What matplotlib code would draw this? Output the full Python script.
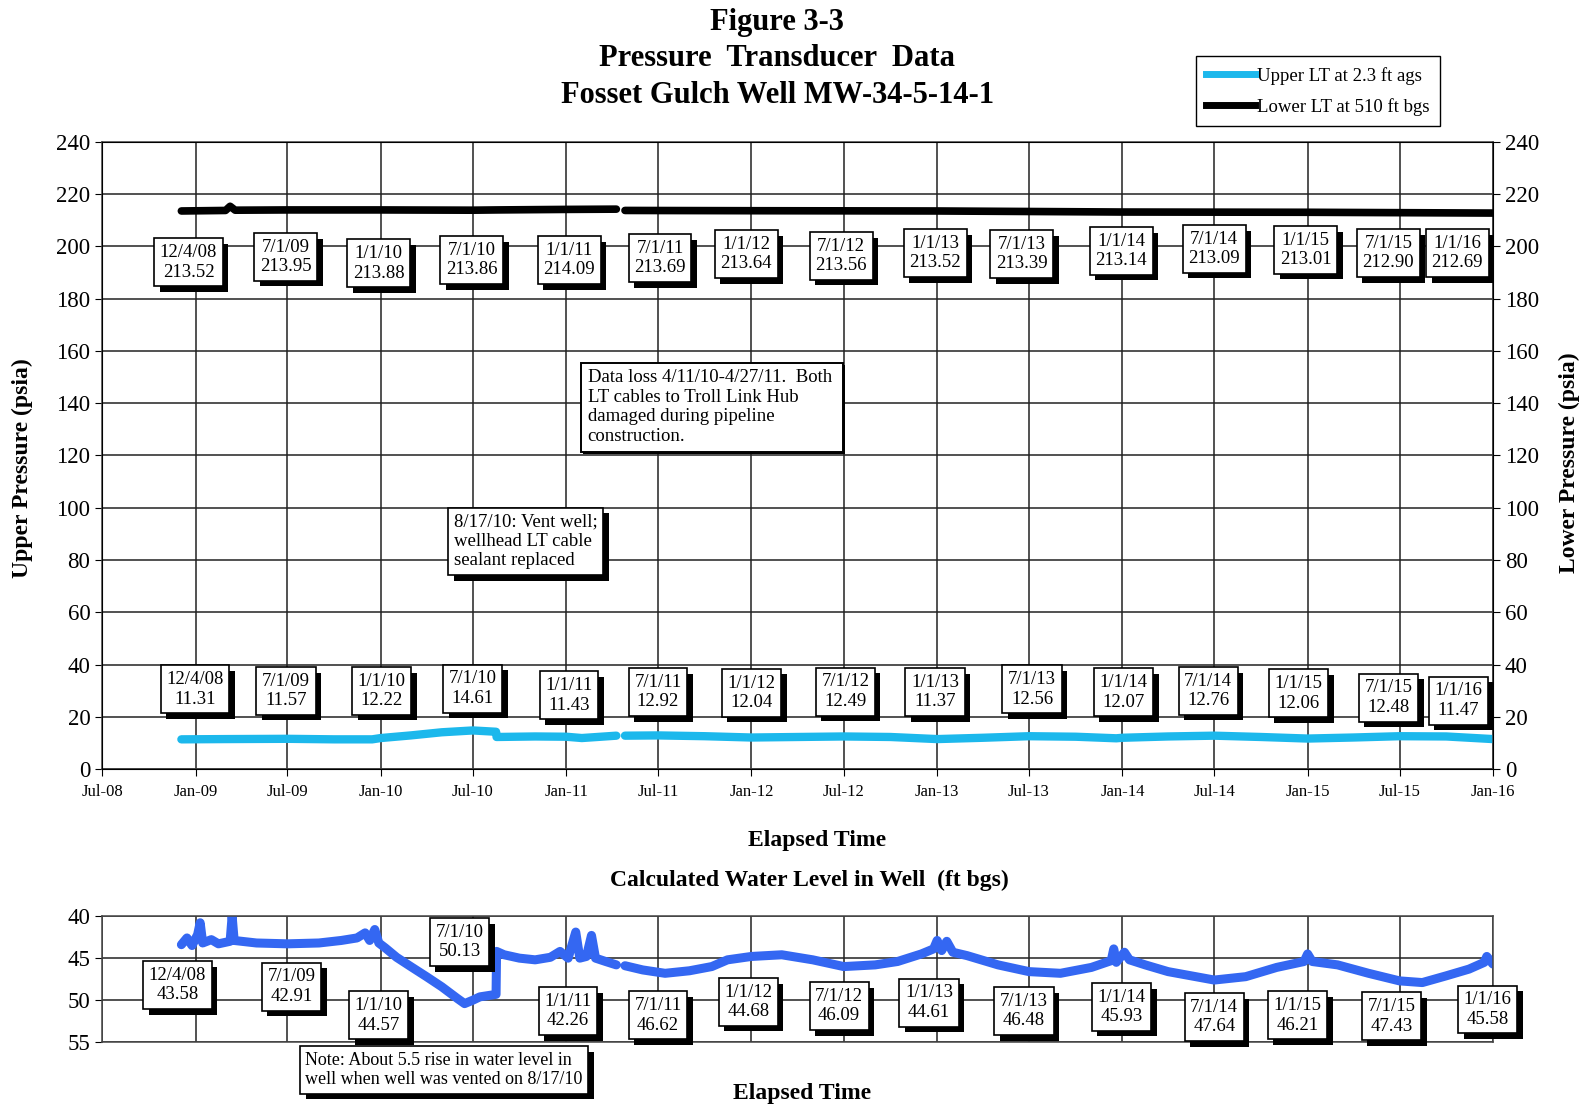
import numpy as np
import pandas as pd
import matplotlib
matplotlib.use("Agg")
import matplotlib.pyplot as plt
import matplotlib.dates as mdates
import matplotlib.patheffects as pe
from matplotlib.lines import Line2D

plt.rcParams['font.family'] = ['Liberation Serif', 'DejaVu Serif']

# ---- data ----
# upper LT (psia), left axis
upper_dates = ["2008-12-04", "2009-03-01", "2009-07-01", "2009-10-01", "2009-12-15",
               "2010-01-01", "2010-03-01", "2010-05-01", "2010-07-01", "2010-08-16",
               "2010-08-17", "2010-11-01", "2011-01-01", "2011-02-01", "2011-04-10",
               "2011-04-18", "2011-04-27", "2011-07-01", "2011-10-01", "2012-01-01",
               "2012-04-01", "2012-07-01", "2012-10-01", "2013-01-01", "2013-04-01",
               "2013-07-01", "2013-10-01", "2013-12-20", "2014-01-01", "2014-04-01",
               "2014-07-01", "2014-10-01", "2015-01-01", "2015-04-01", "2015-07-01",
               "2015-10-01", "2016-01-01"]
upper_vals = [11.4, 11.5, 11.6, 11.4, 11.4,
              11.9, 12.9, 14.1, 14.8, 14.3,
              12.3, 12.5, 12.4, 11.9, 12.8,
              np.nan, 12.8, 12.9, 12.6, 12.1,
              12.3, 12.5, 12.3, 11.5, 12.0,
              12.6, 12.4, 11.8, 12.0, 12.5,
              12.8, 12.3, 11.7, 12.1, 12.6,
              12.5, 11.5]

# lower LT (psia), right axis
lower_dates = ["2008-12-04", "2009-03-01", "2009-03-10", "2009-03-20", "2009-07-01",
               "2010-01-01", "2010-07-01", "2010-08-17", "2011-01-01", "2011-04-10",
               "2011-04-18", "2011-04-27", "2012-01-01", "2013-01-01", "2014-01-01",
               "2015-01-01", "2016-01-01"]
lower_vals = [213.5, 213.7, 215.3, 213.8, 213.9,
              213.9, 213.8, 213.9, 214.1, 214.2,
              np.nan, 213.7, 213.6, 213.5, 213.1,
              213.0, 212.7]

# calculated water level (ft bgs)
wl_dates = ["2008-12-04", "2008-12-15", "2008-12-25", "2009-01-05", "2009-01-10",
            "2009-01-15", "2009-02-01", "2009-02-15", "2009-03-10", "2009-03-14",
            "2009-03-18", "2009-05-01", "2009-07-01", "2009-09-01", "2009-10-15",
            "2009-11-15", "2009-12-01", "2009-12-10", "2009-12-20", "2009-12-28",
            "2010-01-10", "2010-02-01", "2010-03-01", "2010-04-01", "2010-05-01",
            "2010-06-01", "2010-06-15", "2010-07-01", "2010-07-15", "2010-08-16",
            "2010-08-17", "2010-09-01", "2010-10-01", "2010-11-01", "2010-12-01",
            "2010-12-20", "2011-01-05", "2011-01-20", "2011-01-28", "2011-02-10",
            "2011-02-20", "2011-02-28", "2011-03-20", "2011-04-10", "2011-04-18",
            "2011-04-27", "2011-06-01", "2011-07-15", "2011-09-01", "2011-10-15",
            "2011-11-15", "2012-01-01", "2012-03-01", "2012-05-01", "2012-07-01",
            "2012-09-01", "2012-10-15", "2012-12-01", "2012-12-25", "2013-01-01",
            "2013-01-10", "2013-01-20", "2013-02-01", "2013-03-01", "2013-05-01",
            "2013-07-01", "2013-09-01", "2013-11-01", "2013-12-10", "2013-12-15",
            "2013-12-20", "2014-01-05", "2014-01-15", "2014-02-15", "2014-04-01",
            "2014-07-01", "2014-09-01", "2014-11-01", "2014-12-25", "2015-01-01",
            "2015-01-10", "2015-03-01", "2015-05-01", "2015-07-01", "2015-08-15",
            "2015-10-01", "2015-11-15", "2015-12-15", "2015-12-20", "2016-01-01"]
wl_vals = [43.4, 42.6, 43.5, 42.2, 40.8,
           43.2, 42.8, 43.3, 43.0, 40.0,
           42.9, 43.2, 43.3, 43.2, 42.9,
           42.6, 42.0, 42.9, 41.6, 43.2,
           43.8, 44.9, 46.0, 47.2, 48.4,
           49.8, 50.4, 50.0, 49.6, 49.3,
           44.2, 44.6, 45.0, 45.2, 44.9,
           44.2, 45.0, 41.9, 45.0, 44.8,
           42.3, 45.0, 45.4, 45.8, np.nan,
           45.9, 46.4, 46.8, 46.5, 46.0,
           45.2, 44.8, 44.6, 45.2, 46.0,
           45.8, 45.4, 44.5, 43.9, 42.9,
           44.1, 43.0, 44.3, 44.7, 45.8,
           46.6, 46.8, 46.1, 45.3, 43.9,
           45.5, 44.3, 45.2, 45.8, 46.6,
           47.6, 47.2, 46.1, 45.4, 44.5,
           45.4, 45.8, 46.8, 47.7, 47.9,
           47.1, 46.3, 45.5, 44.8, 45.7]

# labelled readings
label_dates = ["12/4/08", "7/1/09", "1/1/10", "7/1/10", "1/1/11", "7/1/11", "1/1/12",
               "7/1/12", "1/1/13", "7/1/13", "1/1/14", "7/1/14", "1/1/15", "7/1/15", "1/1/16"]
lower_labels = ["213.52", "213.95", "213.88", "213.86", "214.09", "213.69", "213.64",
                "213.56", "213.52", "213.39", "213.14", "213.09", "213.01", "212.90", "212.69"]
upper_labels = ["11.31", "11.57", "12.22", "14.61", "11.43", "12.92", "12.04",
                "12.49", "11.37", "12.56", "12.07", "12.76", "12.06", "12.48", "11.47"]
wl_labels = ["43.58", "42.91", "44.57", "50.13", "42.26", "46.62", "44.68",
             "46.09", "44.61", "46.48", "45.93", "47.64", "46.21", "47.43", "45.58"]

# ---- layout of the label boxes (day offsets from the date, y centre in data units) ----
lower_box_dx = [14, -3, -4, -2, 6, 4, -10, -5, -4, -14, -2, 0, -4, -22, -70]
lower_box_y = [193.9, 195.9, 193.5, 194.7, 194.7, 195.5, 197.0, 196.3, 197.4, 197.0,
               198.2, 199.0, 198.6, 197.4, 197.4]
upper_box_dx = [27, -3, 2, 0, 6, 0, 0, 3, -4, 6, 2, -12, -18, -22, -68]
upper_box_y = [30.5, 29.9, 29.9, 30.8, 28.2, 29.5, 29.2, 29.6, 29.5, 30.5, 29.4, 29.9,
               29.0, 27.3, 26.2]
wl_box_dx = [-8, 8, -4, -26, 4, 0, -6, -9, -16, -10, -2, 0, -20, -16, -10]
wl_box_y = [48.2, 48.4, 51.8, 43.1, 51.3, 51.8, 50.2, 50.7, 50.3, 51.3, 50.8, 52.0,
            51.8, 51.9, 51.1]

CYAN = '#1CB8EC'
BLUE = '#3467F2'
BOX_FS = 13.5
shadow = [pe.withSimplePatchShadow(offset=(4, -4), shadow_rgbFace='black', alpha=1.0)]
box_style = dict(boxstyle='square,pad=0.3', fc='white', ec='black', lw=1.2)

x0, x1 = pd.Timestamp("2008-07-01"), pd.Timestamp("2016-01-01")
lbl_ts = pd.to_datetime(label_dates, format="%m/%d/%y")


def style_axis(a):
    a.set_xlim(x0, x1)
    a.xaxis.set_major_locator(mdates.MonthLocator(bymonth=[1, 7]))
    a.grid(True, color='#222222', lw=1.1)
    a.set_axisbelow(True)
    for s in a.spines.values():
        s.set_color('#444444')
        s.set_linewidth(1.1)


def box(a, x, y, txt, fs=BOX_FS, ha='center', shad=shadow, **kw):
    t = a.text(x, y, txt, ha=ha, va='center', fontsize=fs, linespacing=1.2,
               bbox=box_style, clip_on=False, zorder=10, **kw)
    t.get_bbox_patch().set_path_effects(shad)
    return t


fig = plt.figure(figsize=(15.87, 11.07), dpi=100)
ax = fig.add_axes([0.0644, 0.3052, 0.8763, 0.5668])
ax2 = ax.twinx()

ax.plot(pd.to_datetime(upper_dates), upper_vals, color=CYAN, lw=6, solid_capstyle='round')
ax2.plot(pd.to_datetime(lower_dates), lower_vals, color='black', lw=5.5, solid_capstyle='round')

for a in (ax, ax2):
    a.set_ylim(0, 240)
    a.set_yticks(np.arange(0, 241, 20))
    a.tick_params(axis='y', labelsize=16.5, length=5, direction='out')
style_axis(ax)
ax.xaxis.set_major_formatter(mdates.DateFormatter('%b-%y'))
ax.tick_params(axis='x', labelsize=12, length=5, pad=6)

for i in range(len(label_dates)):
    box(ax2, lbl_ts[i] + pd.Timedelta(days=lower_box_dx[i]), lower_box_y[i],
        label_dates[i] + "\n" + lower_labels[i])
    box(ax2, lbl_ts[i] + pd.Timedelta(days=upper_box_dx[i]), upper_box_y[i],
        label_dates[i] + "\n" + upper_labels[i])

# notes
box(ax2, 0.253, 0.363, "8/17/10: Vent well;\nwellhead LT cable\nsealant replaced",
    ha='left', transform=ax.transAxes, fs=13.5)
dl = ax2.text(0.349, 0.577, "Data loss 4/11/10-4/27/11.  Both \nLT cables to Troll Link Hub\n"
              "damaged during pipeline\nconstruction.", ha='left', va='center', fontsize=13.5,
              linespacing=1.2, transform=ax.transAxes, zorder=10,
              bbox=dict(boxstyle='square,pad=0.35', fc='white', ec='black', lw=1.4))
dl.get_bbox_patch().set_path_effects(
    [pe.withSimplePatchShadow(offset=(1.5, -1.5), shadow_rgbFace='black', alpha=1.0)])

# water level panel
bx = fig.add_axes([0.0644, 0.0584, 0.8763, 0.1141])
bx.plot(pd.to_datetime(wl_dates), wl_vals, color=BLUE, lw=6.5, solid_capstyle='round')
bx.set_ylim(55, 40)
bx.set_yticks([40, 45, 50, 55])
bx.tick_params(axis='y', labelsize=16.5, length=5)
style_axis(bx)
bx.tick_params(axis='x', labelbottom=False, length=0)
for i in range(len(label_dates)):
    box(bx, lbl_ts[i] + pd.Timedelta(days=wl_box_dx[i]), wl_box_y[i],
        label_dates[i] + "\n" + wl_labels[i])
nb = fig.text(0.1925, 0.0336, "Note: About 5.5 rise in water level in\nwell when well was vented on 8/17/10",
              ha='left', va='center', fontsize=13, linespacing=1.2, bbox=box_style)
nb.get_bbox_patch().set_path_effects(shadow)

# titles and axis labels
for y, t in [(0.980, "Figure 3-3"), (0.947, "Pressure  Transducer  Data"),
             (0.914, "Fosset Gulch Well MW-34-5-14-1")]:
    fig.text(0.4897, y, t, ha='center', va='center', fontsize=22, fontweight='bold')
fig.text(0.0139, 0.577, "Upper Pressure (psia)", rotation=90, ha='center', va='center',
         fontsize=17, fontweight='bold')
fig.text(0.9887, 0.582, "Lower Pressure (psia)", rotation=90, ha='center', va='center',
         fontsize=17, fontweight='bold')
fig.text(0.515, 0.241, "Elapsed Time", ha='center', va='center', fontsize=17, fontweight='bold')
fig.text(0.510, 0.2046, "Calculated Water Level in Well  (ft bgs)", ha='center', va='center',
         fontsize=17, fontweight='bold')
fig.text(0.5057, 0.0126, "Elapsed Time", ha='center', va='center', fontsize=17, fontweight='bold')

handles = [Line2D([], [], color=CYAN, lw=5), Line2D([], [], color='black', lw=5)]
leg = fig.legend(handles, ["Upper LT at 2.3 ft ags", "Lower LT at 510 ft bgs"],
                 loc='upper left', bbox_to_anchor=(0.7536, 0.949), fontsize=13.5,
                 fancybox=False, edgecolor='black', framealpha=1, handlelength=2.6,
                 handletextpad=0.1, labelspacing=0.7, borderpad=0.55, borderaxespad=0)
leg.get_frame().set_linewidth(1.0)

fig.savefig("out.png", dpi=100)
